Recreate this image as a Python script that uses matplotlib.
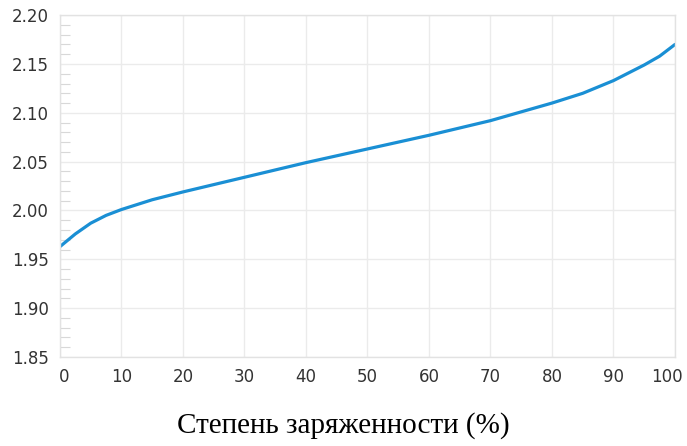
import matplotlib.pyplot as plt
import matplotlib.transforms as mtransforms
from matplotlib.ticker import MultipleLocator

# charge level (%) and voltage per cell (V)
charge = [0, 2.5, 5, 7.5, 10, 15, 20, 30, 40, 50, 60, 70, 80, 85, 90, 95, 97.5, 100]
voltage = [1.963, 1.976, 1.987, 1.995, 2.001, 2.011, 2.019, 2.034, 2.049, 2.063,
           2.077, 2.092, 2.110, 2.120, 2.133, 2.149, 2.158, 2.170]

x_ticks = [0, 10, 20, 30, 40, 50, 60, 70, 80, 90, 100]
y_ticks = [1.85, 1.90, 1.95, 2.00, 2.05, 2.10, 2.15, 2.20]
x_label = "Степень заряженности (%)"

fig = plt.figure(figsize=(6.87, 4.46), dpi=100)
ax = fig.add_axes([0.0873, 0.1996, 0.8952, 0.7664])

ax.plot(charge, voltage, color="#1a8fd4", linewidth=2.3, solid_capstyle="round")

ax.set_xlim(0, 100)
ax.set_ylim(1.85, 2.20)
ax.set_xticks(x_ticks)
ax.set_yticks(y_ticks)
ax.set_yticklabels([f"{v:.2f}" for v in y_ticks])
ax.yaxis.set_minor_locator(MultipleLocator(0.01))

ax.grid(True, which="major", color="#ebebeb", linewidth=1.0)
ax.set_axisbelow(True)
for s in ax.spines.values():
    s.set_color("#e2e2e2")
    s.set_linewidth(1.0)

ax.tick_params(axis="x", length=0, pad=8, labelsize=12, labelcolor="#333333")
ax.tick_params(axis="y", which="major", direction="in", length=0, pad=8,
               labelsize=12, labelcolor="#333333")
ax.tick_params(axis="y", which="minor", direction="in", length=7,
               color="#d8d8d8", width=0.8)

# first and last x labels sit a bit inward, as in the original
xl = ax.get_xticklabels()
xl[0].set_transform(xl[0].get_transform() + mtransforms.ScaledTranslation(0.04, 0, fig.dpi_scale_trans))
xl[-1].set_transform(xl[-1].get_transform() + mtransforms.ScaledTranslation(-0.08, 0, fig.dpi_scale_trans))

fig.text(0.5, 0.047, x_label, ha="center", va="center",
         fontsize=21, family="Liberation Serif", color="black")

fig.savefig("out.png", dpi=100)
